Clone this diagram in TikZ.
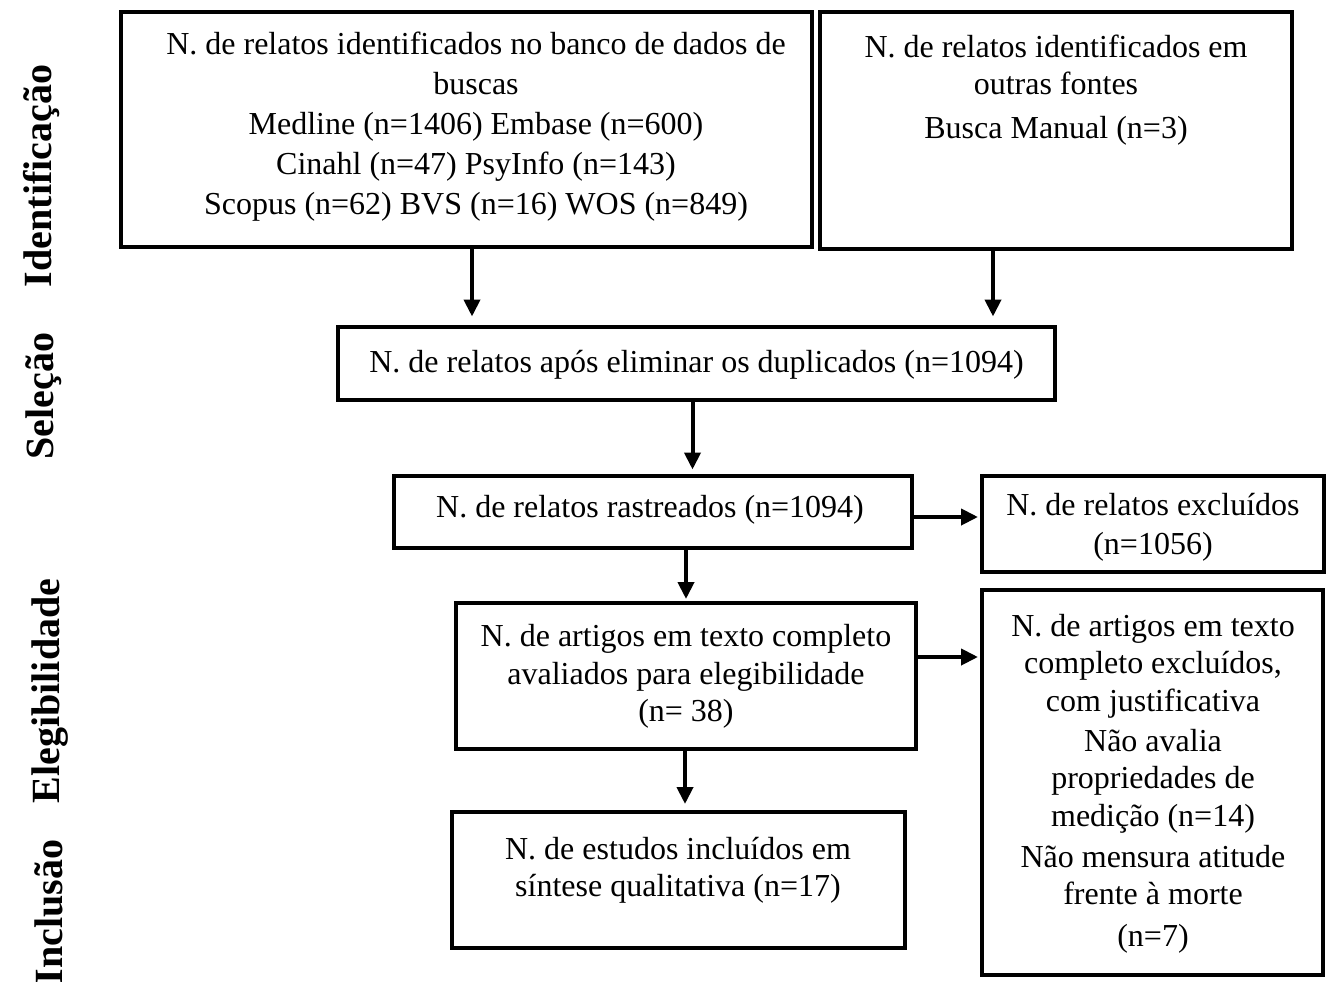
\documentclass[tikz,border=0pt]{standalone}
\usepackage{fontspec}
\setmainfont{Liberation Serif}
\usetikzlibrary{arrows.meta}
\begin{document}
\begin{tikzpicture}[x=1pt,y=-1pt,
  box/.style={draw=black, line width=4pt, inner sep=0pt},
  txt/.style={align=center, inner sep=0pt, font=\fontsize{32}{37.5}\selectfont},
  lbl/.style={rotate=90, anchor=base, inner sep=0pt, font=\fontsize{40}{46}\selectfont\bfseries},
  arr/.style={line width=4pt, -{Triangle[length=17pt,width=16pt]}}]
\useasboundingbox (0,0) rectangle (1328,982);
\fill[white] (0,0) rectangle (1328,982);

% side labels
\node[lbl] (L1) at (51,176) {Identificação};
\node[lbl] (L2) at (53,396) {Seleção};
\node[lbl] (L3) at (59,691) {Elegibilidade};
\node[lbl] (L4) at (62,912) {Inclusão};

% boxes
\node[box, minimum width=691pt, minimum height=235pt] (A) at (466.5,129.5) {};
\node[box, minimum width=472pt, minimum height=237pt] (B) at (1056,130.5) {};
\node[box, minimum width=717pt, minimum height=73pt] (C) at (696.5,363) {};
\node[box, minimum width=518pt, minimum height=72pt] (D) at (653,511.5) {};
\node[box, minimum width=342pt, minimum height=96pt] (E) at (1153,524) {};
\node[box, minimum width=460pt, minimum height=146pt] (F) at (686,676) {};
\node[box, minimum width=341pt, minimum height=385pt] (G) at (1152.5,782.5) {};
\node[box, minimum width=453pt, minimum height=136pt] (H) at (678,880) {};

% texts
\node[txt, font=\fontsize{32}{40}\selectfont] (tA) at (476,127) {N. de relatos identificados no banco de dados de\\ buscas\\ Medline (n=1406) Embase (n=600)\\ Cinahl (n=47) PsyInfo (n=143)\\ Scopus (n=62) BVS (n=16) WOS (n=849)};
\node[txt, font=\fontsize{32}{37}\selectfont] (tB) at (1056,90.5) {N. de relatos identificados em\\ outras fontes\\[7pt] Busca Manual (n=3)};
\node[txt] (tC) at (696.5,365) {N. de relatos após eliminar os duplicados (n=1094)};
\node[txt] (tD) at (650,509.5) {N. de relatos rastreados (n=1094)};
\node[txt, font=\fontsize{32}{39}\selectfont] (tE) at (1153,527) {N. de relatos excluídos\\ (n=1056)};
\node[txt] (tF) at (686,676.5) {N. de artigos em texto completo\\ avaliados para elegibilidade\\ (n= 38)};
\node[txt] (tG) at (1153,784) {N. de artigos em texto\\ completo excluídos,\\ com justificativa\\[2.5pt] Não avalia\\ propriedades de\\ medição (n=14)\\[3.5pt] Não mensura atitude\\ frente à morte\\[4.5pt] (n=7)};
\node[txt, font=\fontsize{32}{37}\selectfont] (tH) at (678,870.5) {N. de estudos incluídos em\\ síntese qualitativa (n=17)};

% connectors
\draw[arr, shorten >=8pt] ([xshift=5.5pt]A.south) -- ([xshift=5.5pt]A.south |- C.north);
\draw[arr, shorten >=8pt] ([xshift=-63pt]B.south) -- ([xshift=-63pt]B.south |- C.north);
\draw[arr, shorten >=4pt] ([xshift=-4pt]C.south) -- ([xshift=-4pt]C.south |- D.north);
\draw[arr, shorten >=2pt] ([yshift=-5.5pt]D.east) -- ([yshift=-5.5pt]D.east -| E.west);
\draw[arr, shorten >=2pt] ([xshift=33pt]D.south) -- ([xshift=33pt]D.south |- F.north);
\draw[arr, shorten >=2pt] ([yshift=19pt]F.east) -- ([yshift=19pt]F.east -| G.west);
\draw[arr, shorten >=6pt] ([xshift=-1pt]F.south) -- ([xshift=-1pt]F.south |- H.north);
\end{tikzpicture}
\end{document}
